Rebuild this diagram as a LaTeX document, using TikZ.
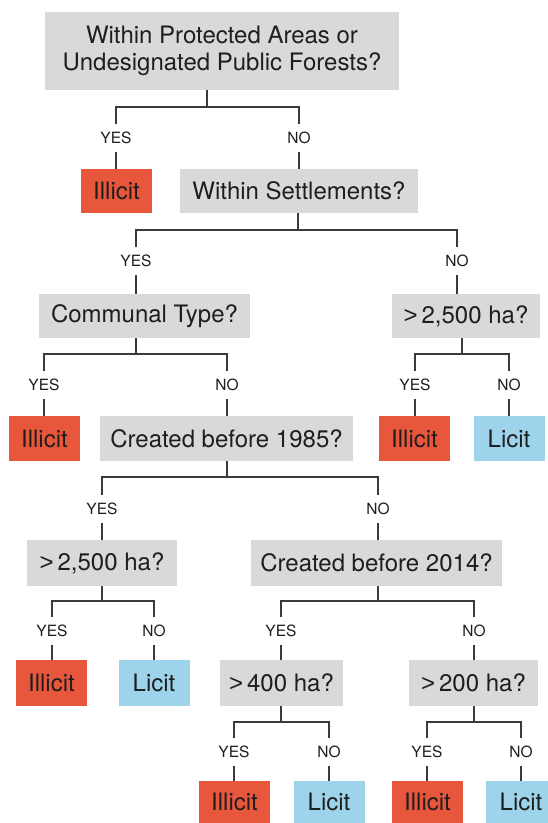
\documentclass[tikz,border=0pt]{standalone}
\usepackage{fontspec}
\setmainfont{TeX Gyre Heros}
\newfontfamily\gtfont{Liberation Sans}
\definecolor{qgray}{HTML}{D9D9D9}
\definecolor{illred}{HTML}{E8563C}
\definecolor{licblue}{HTML}{9DD3EB}
\definecolor{txt}{HTML}{1E1E1E}
\definecolor{ln}{HTML}{3A3A3A}
\newcommand\mygt{{\gtfont >}\,}
\newcommand\mybranch[6]{%
  \draw[conn] (#2.south -| #1) -- (#1);
  \draw[conn] (#3.north) -- (#3 |- #1) -- (#4 |- #1) -- (#4.north);
  \draw[conn] (#3.south) -- (#3.south |- #5.north);
  \draw[conn] (#4.south) -- (#4.south |- #6.north);
}
\begin{document}
\begin{tikzpicture}[x=1pt,y=-1pt,
  box/.style={inner sep=0pt, text=txt, font=\fontsize{24}{27}\selectfont, minimum height=45pt, align=center},
  qbox/.style={box, fill=qgray},
  ibox/.style={box, fill=illred, minimum width=71pt},
  lbox/.style={box, fill=licblue, minimum width=71pt},
  lbl/.style={inner sep=0pt, text=txt, font=\fontsize{15.5}{18}\selectfont, minimum height=28pt},
  conn/.style={draw=ln, line width=1.3pt}]
\useasboundingbox (0,0) rectangle (548,823);
\fill[white] (0,0) rectangle (548,823);
\clip (0,0) rectangle (548,823);

% level 1
\node[qbox, minimum width=354pt, minimum height=78pt] (q1) at (222,51) {Within Protected Areas or\\Undesignated Public Forests?};
\coordinate (j1) at (207,107);
\node[lbl] (y1) at (116,138) {YES};
\node[lbl] (n1) at (299,138) {NO};
\node[ibox, minimum height=44pt] (i1) at (116.5,191) {Illicit};
\node[qbox, minimum width=238pt, minimum height=44pt] (q2) at (299,191) {Within Settlements?};
\mybranch{j1}{q1}{y1}{n1}{i1}{q2}

% level 2
\coordinate (j2) at (298,230);
\node[lbl] (y2) at (136,261) {YES};
\node[lbl] (n2) at (457,261) {NO};
\node[qbox, minimum width=211pt, minimum height=44pt] (q3) at (144.5,316) {Communal Type?};
\node[qbox, minimum width=148pt, minimum height=44pt] (q4) at (466,316) {\mygt 2,500 ha?};
\mybranch{j2}{q2}{y2}{n2}{q3}{q4}

% level 3
\coordinate (j3) at (136,354);
\node[lbl] (y3) at (44,385) {YES};
\node[lbl] (n3) at (227,385) {NO};
\node[ibox] (i2) at (44.5,438.5) {Illicit};
\node[qbox, minimum width=253pt] (q5) at (226.5,438.5) {Created before 1985?};
\mybranch{j3}{q3}{y3}{n3}{i2}{q5}

\coordinate (j4) at (462,354);
\node[lbl] (y4) at (415,385) {YES};
\node[lbl] (n4) at (509,385) {NO};
\node[ibox] (i3) at (414.5,438.5) {Illicit};
\node[lbox] (l1) at (509,438.5) {Licit};
\mybranch{j4}{q4}{y4}{n4}{i3}{l1}

% level 4
\coordinate (j5) at (227,477);
\node[lbl] (y5) at (102,509) {YES};
\node[lbl] (n5) at (378,509) {NO};
\node[qbox, minimum width=150pt, minimum height=46pt] (q6) at (102,563) {\mygt 2,500 ha?};
\node[qbox, minimum width=251pt, minimum height=46pt] (q7) at (376.5,563) {Created before 2014?};
\mybranch{j5}{q5}{y5}{n5}{q6}{q7}

% level 5
\coordinate (j6) at (102,601);
\node[lbl] (y6) at (52,631) {YES};
\node[lbl] (n6) at (154,631) {NO};
\node[ibox, minimum height=46pt] (i4) at (51.5,683) {Illicit};
\node[lbox, minimum height=46pt] (l2) at (154,683) {Licit};
\mybranch{j6}{q6}{y6}{n6}{i4}{l2}

\coordinate (j7) at (378,601);
\node[lbl] (y7) at (281,631) {YES};
\node[lbl] (n7) at (474,631) {NO};
\node[qbox, minimum width=123pt, minimum height=46pt] (q8) at (281.5,683) {\mygt 400 ha?};
\node[qbox, minimum width=129pt, minimum height=46pt] (q9) at (473.5,683) {\mygt 200 ha?};
\mybranch{j7}{q7}{y7}{n7}{q8}{q9}

% level 6
\coordinate (j8) at (281,722);
\node[lbl] (y8) at (234,752) {YES};
\node[lbl] (n8) at (329,752) {NO};
\node[ibox, minimum height=42pt] (i5) at (234.5,802) {Illicit};
\node[lbox, minimum height=42pt] (l3) at (329,802) {Licit};
\mybranch{j8}{q8}{y8}{n8}{i5}{l3}

\coordinate (j9) at (474,722);
\node[lbl] (y9) at (427,752) {YES};
\node[lbl] (n9) at (521,752) {NO};
\node[ibox, minimum height=42pt] (i6) at (427.5,802) {Illicit};
\node[lbox, minimum height=42pt] (l4) at (521,802) {Licit};
\mybranch{j9}{q9}{y9}{n9}{i6}{l4}
\end{tikzpicture}
\end{document}
